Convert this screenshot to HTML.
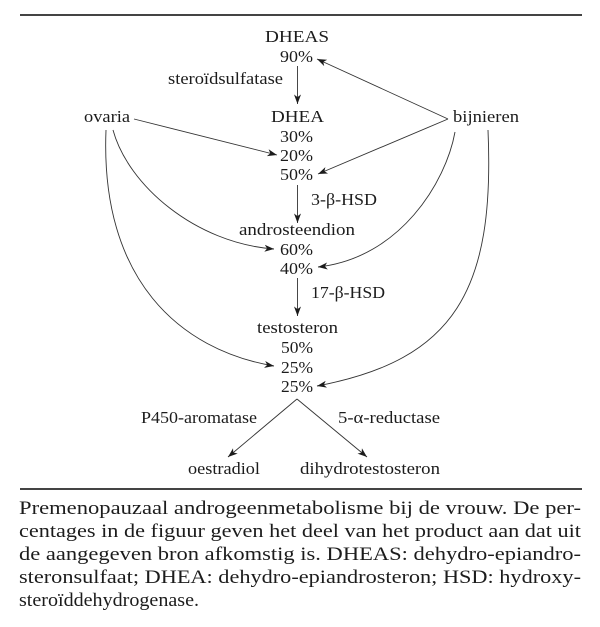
<!DOCTYPE html>
<html>
<head>
<meta charset="utf-8">
<style>
  html, body { margin: 0; padding: 0; background: #ffffff; }
  body { width: 600px; height: 627px; overflow: hidden; }
  svg { display: block; }
  text { font-family: "Liberation Serif", "DejaVu Serif", serif; fill: #1c1c1c; }
  .d { font-size: 17px; }
  .c { font-size: 18.5px; }
  .ln { stroke: #333; stroke-width: 0.9; fill: none; }
</style>
</head>
<body>
<svg width="600" height="627" viewBox="0 0 600 627" xmlns="http://www.w3.org/2000/svg">
  <defs>
    <marker id="ah" markerUnits="userSpaceOnUse" markerWidth="10" markerHeight="8" refX="9.5" refY="3.5" orient="auto" viewBox="0 0 10 7">
      <path d="M0,0 L9.5,3.5 L0,7 L2.6,3.5 Z" fill="#1c1c1c"/>
    </marker>
  </defs>

  <!-- rules -->
  <rect x="20" y="14" width="562" height="2" fill="#444"/>
  <rect x="20" y="488" width="562" height="2" fill="#444"/>

  <!-- diagram labels -->
  <text class="d" x="265" y="42" textLength="64" lengthAdjust="spacingAndGlyphs">DHEAS</text>
  <text class="d" x="280" y="62" textLength="33" lengthAdjust="spacingAndGlyphs">90%</text>
  <text class="d" x="168" y="84" textLength="115" lengthAdjust="spacingAndGlyphs">steroïdsulfatase</text>

  <text class="d" x="84" y="122" textLength="46" lengthAdjust="spacingAndGlyphs">ovaria</text>
  <text class="d" x="271" y="122" textLength="53" lengthAdjust="spacingAndGlyphs">DHEA</text>
  <text class="d" x="453" y="122" textLength="66" lengthAdjust="spacingAndGlyphs">bijnieren</text>

  <text class="d" x="280" y="142" textLength="33" lengthAdjust="spacingAndGlyphs">30%</text>
  <text class="d" x="280" y="161" textLength="33" lengthAdjust="spacingAndGlyphs">20%</text>
  <text class="d" x="280" y="180" textLength="33" lengthAdjust="spacingAndGlyphs">50%</text>

  <text class="d" x="311" y="205" textLength="66" lengthAdjust="spacingAndGlyphs">3-β-HSD</text>

  <text class="d" x="239" y="235" textLength="116" lengthAdjust="spacingAndGlyphs">androsteendion</text>
  <text class="d" x="280" y="255" textLength="33" lengthAdjust="spacingAndGlyphs">60%</text>
  <text class="d" x="280" y="274" textLength="33" lengthAdjust="spacingAndGlyphs">40%</text>

  <text class="d" x="311" y="298" textLength="74" lengthAdjust="spacingAndGlyphs">17-β-HSD</text>

  <text class="d" x="257" y="333" textLength="81" lengthAdjust="spacingAndGlyphs">testosteron</text>
  <text class="d" x="281" y="353" textLength="32" lengthAdjust="spacingAndGlyphs">50%</text>
  <text class="d" x="281" y="373" textLength="32" lengthAdjust="spacingAndGlyphs">25%</text>
  <text class="d" x="281" y="392" textLength="32" lengthAdjust="spacingAndGlyphs">25%</text>

  <text class="d" x="141" y="423" textLength="116" lengthAdjust="spacingAndGlyphs">P450-aromatase</text>
  <text class="d" x="338" y="423" textLength="102" lengthAdjust="spacingAndGlyphs">5-α-reductase</text>

  <text class="d" x="188" y="474" textLength="72" lengthAdjust="spacingAndGlyphs">oestradiol</text>
  <text class="d" x="300" y="474" textLength="140" lengthAdjust="spacingAndGlyphs">dihydrotestosteron</text>

  <!-- vertical arrows -->
  <path class="ln" d="M297.5,66 L297.5,104" marker-end="url(#ah)"/>
  <path class="ln" d="M297.5,185 L297.5,223" marker-end="url(#ah)"/>
  <path class="ln" d="M297.5,278 L297.5,316" marker-end="url(#ah)"/>

  <!-- bijnieren straight arrows -->
  <path class="ln" d="M448,119 L317,59" marker-end="url(#ah)"/>
  <path class="ln" d="M448,119 L318,174" marker-end="url(#ah)"/>

  <!-- ovaria straight arrow -->
  <path class="ln" d="M134,119 L277,155" marker-end="url(#ah)"/>

  <!-- ovaria curves -->
  <path class="ln" d="M113,130 C128,185 195,243 274,249" marker-end="url(#ah)"/>
  <path class="ln" d="M106,130 C100,280 180,350 274,366" marker-end="url(#ah)"/>

  <!-- bijnieren curves -->
  <path class="ln" d="M455,132 C446,182 400,258 318,267" marker-end="url(#ah)"/>
  <path class="ln" d="M488,130 C495,290 455,360 317,386" marker-end="url(#ah)"/>

  <!-- split to products -->
  <path class="ln" d="M297,399 L228,457" marker-end="url(#ah)"/>
  <path class="ln" d="M297,399 L367,457" marker-end="url(#ah)"/>

  <!-- caption -->
  <text class="c" x="19" y="514" textLength="562" lengthAdjust="spacingAndGlyphs">Premenopauzaal androgeenmetabolisme bij de vrouw. De per-</text>
  <text class="c" x="19" y="537" textLength="562" lengthAdjust="spacingAndGlyphs">centages in de figuur geven het deel van het product aan dat uit</text>
  <text class="c" x="19" y="560" textLength="562" lengthAdjust="spacingAndGlyphs">de aangegeven bron afkomstig is. DHEAS: dehydro-epiandro-</text>
  <text class="c" x="19" y="583" textLength="562" lengthAdjust="spacingAndGlyphs">steronsulfaat; DHEA: dehydro-epiandrosteron; HSD: hydroxy-</text>
  <text class="c" x="19" y="606" textLength="180" lengthAdjust="spacingAndGlyphs">steroïddehydrogenase.</text>
</svg>
</body>
</html>
